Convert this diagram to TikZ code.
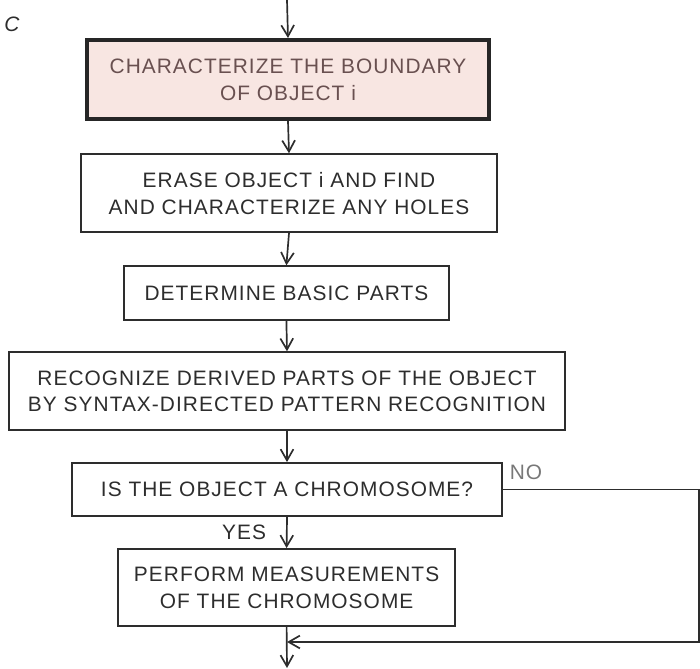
\documentclass[tikz,border=0pt]{standalone}
\usepackage{fontspec}
\setmainfont{Liberation Sans}[LetterSpace=5]
\usetikzlibrary{arrows.meta}

\definecolor{inkgray}{RGB}{45,45,45}
\definecolor{boundfill}{RGB}{248,230,226}
\definecolor{boundtext}{RGB}{105,80,80}
\definecolor{labelgray}{RGB}{120,120,120}

\begin{document}
\begin{tikzpicture}
[stepbox/.style={rectangle, draw=inkgray, line width=1.3pt, align=center, text=inkgray,
  font=\fontsize{14.85}{19}\selectfont, inner sep=0pt},
firstbox/.style={stepbox, draw=black!85, line width=2.8pt, fill=boundfill, text=boundtext},
flowlabel/.style={font=\fontsize{14.85}{19}\selectfont},
connect/.style={-{Straight Barb[length=2.8mm,width=3.2mm,line width=1.2pt]}, draw=inkgray, line width=1.2pt}]
\useasboundingbox (0, 0) rectangle (17.5, -16.725);

\node[flowlabel, font=\fontsize{14.85}{19}\selectfont\itshape, text=inkgray] (tag) at (0.3, -0.62) {C};

\coordinate (start) at (7.175, 0);
\node[firstbox, minimum width=10.05cm, minimum height=1.98cm] (boundary) at (7.2, -1.99)
  {CHARACTERIZE THE BOUNDARY\\OF OBJECT i};
\node[stepbox, minimum width=10.4cm, minimum height=1.95cm] (erase) at (7.225, -4.83)
  {ERASE OBJECT i AND FIND\\AND CHARACTERIZE ANY HOLES};
\node[stepbox, minimum width=8.13cm, minimum height=1.35cm] (basic) at (7.16, -7.33)
  {DETERMINE BASIC PARTS};
\node[stepbox, minimum width=13.9cm, minimum height=1.95cm] (derived) at (7.175, -9.78)
  {RECOGNIZE DERIVED PARTS OF THE OBJECT\\BY SYNTAX-DIRECTED PATTERN RECOGNITION};
\node[stepbox, minimum width=10.75cm, minimum height=1.33cm] (test) at (7.175, -12.24)
  {IS THE OBJECT A CHROMOSOME?};
\node[stepbox, minimum width=8.43cm, minimum height=1.93cm] (measure) at (7.165, -14.69)
  {PERFORM MEASUREMENTS\\OF THE CHROMOSOME};
\coordinate (corner1) at (17.475, -12.24);
\coordinate (corner2) at (17.475, -16.05);
\coordinate (join) at (7.175, -16.05);
\coordinate (finish) at (7.175, -16.7);

\node[flowlabel, text=inkgray] (yes) at (6.1, -13.3) {YES};
\node[flowlabel, text=labelgray] (no) at (13.15, -11.8) {NO};

\draw[connect] (start) -- (boundary.north);
\draw[connect] (boundary.south) -- (erase.north);
\draw[connect] (erase.south) -- (basic.north);
\draw[connect] (basic.south) -- (derived.north);
\draw[connect] (derived.south) -- (test.north);
\draw[connect] (test.south) -- (measure.north);
\draw[connect] (measure.south) -- (finish);
\draw[connect] (test.east) -- (corner1) -- (corner2) -- (join);

\end{tikzpicture}
\end{document}
